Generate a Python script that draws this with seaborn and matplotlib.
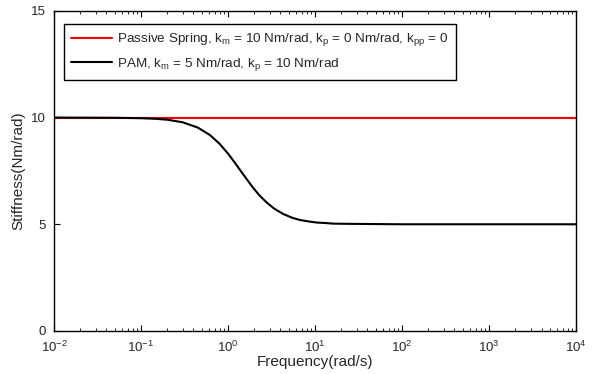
import numpy as np
import pandas as pd
import matplotlib
matplotlib.use('Agg')
import matplotlib.pyplot as plt
import seaborn as sns

# 값은 그림에서 읽어온 것
freq = [0.01, 0.05, 0.1, 0.15, 0.2, 0.3, 0.45, 0.62, 0.8, 1.0, 1.2, 1.37, 1.6, 1.95,
        2.3, 2.78, 3.4, 4.32, 5.5, 6.73, 8.5, 10.5, 13, 16.3, 25, 100, 1000, 10000]
pam_stiff = [10.0, 9.99, 9.97, 9.94, 9.90, 9.78, 9.53, 9.18, 8.77, 8.31, 7.88, 7.55, 7.17, 6.70,
             6.35, 6.02, 5.73, 5.48, 5.30, 5.20, 5.13, 5.08, 5.06, 5.03, 5.02, 5.0, 5.0, 5.0]
spring_freq = [0.01, 10000]
spring_stiff = [10, 10]

lbl_spring = r'Passive Spring, k$_{\mathrm{m}}$ = 10 Nm/rad, k$_{\mathrm{p}}$ = 0 Nm/rad, k$_{\mathrm{pp}}$ = 0'
lbl_pam = r'PAM, k$_{\mathrm{m}}$ = 5 Nm/rad, k$_{\mathrm{p}}$ = 10 Nm/rad'

df = pd.concat([
    pd.DataFrame({'freq': spring_freq, 'k': spring_stiff, 'curve': lbl_spring}),
    pd.DataFrame({'freq': freq, 'k': pam_stiff, 'curve': lbl_pam}),
])

sns.set_style('ticks')
plt.rcParams['font.family'] = ['Liberation Sans', 'DejaVu Sans']
plt.rcParams['mathtext.fontset'] = 'custom'
plt.rcParams['mathtext.rm'] = 'Liberation Sans'
plt.rcParams['mathtext.it'] = 'Liberation Sans'
plt.rcParams['xtick.direction'] = 'in'
plt.rcParams['ytick.direction'] = 'in'

fig = plt.figure(figsize=(5.92, 3.74), dpi=100)
ax = fig.add_axes([0.0912, 0.115, 0.882, 0.856])

sns.lineplot(data=df, x='freq', y='k', hue='curve', palette=['#ff0000', '#000000'],
             linewidth=1.5, ax=ax, sort=False)

ax.set_xscale('log')
ax.set_xlim(1e-2, 1e4)
ax.set_ylim(0, 15)
ax.set_yticks([0, 5, 10, 15])
ax.set_xticks([10.0**i for i in range(-2, 5)])
ax.tick_params(which='both', top=True, right=True, labelsize=9.5, color='black')
ax.tick_params(which='major', length=4, width=0.8)
ax.tick_params(which='minor', length=2, width=0.6)
ax.tick_params(axis='x', pad=6)
ax.tick_params(axis='y', pad=6)
for s in ax.spines.values():
    s.set_color('black')
    s.set_linewidth(1.0)

ax.set_xlabel('Frequency(rad/s)', fontsize=11, labelpad=0)
ax.set_ylabel('Stiffness(Nm/rad)', fontsize=11, labelpad=4)

leg = ax.legend(loc='upper left', bbox_to_anchor=(0.019, 0.959), borderaxespad=0,
                fontsize=9.7, frameon=True, fancybox=False, edgecolor='black', framealpha=1,
                handlelength=3.0, handletextpad=0.4, borderpad=0.55, labelspacing=0.55)
leg.get_frame().set_linewidth(1.0)

fig.savefig('out.png', dpi=100)
